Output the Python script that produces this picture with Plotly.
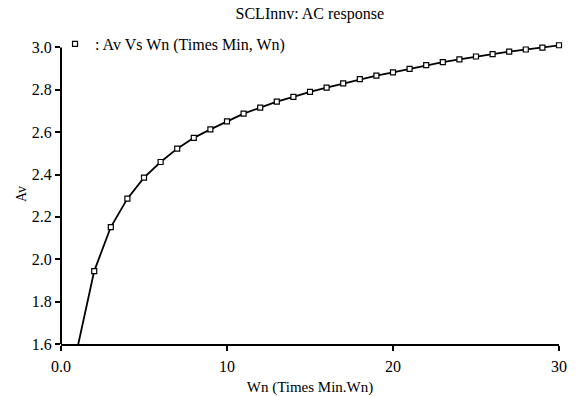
import plotly.graph_objects as go

wn = list(range(1, 31))
av = [1.585, 1.944, 2.152, 2.286, 2.385, 2.459, 2.522, 2.573, 2.613, 2.651,
      2.687, 2.716, 2.744, 2.766, 2.790, 2.810, 2.830, 2.850, 2.867, 2.882,
      2.899, 2.916, 2.930, 2.943, 2.957, 2.968, 2.980, 2.990, 2.999, 3.010]
x_tickvals = [0, 10, 20, 30]
x_ticktext = ["0.0", "10", "20", "30"]
y_tickvals = [1.6, 1.8, 2.0, 2.2, 2.4, 2.6, 2.8, 3.0]
y_ticktext = ["1.6", "1.8", "2.0", "2.2", "2.4", "2.6", "2.8", "3.0"]

FONT = "Liberation Serif"
FS = 16

fig = go.Figure()
fig.add_trace(go.Scatter(
    x=wn, y=av, mode="lines", line=dict(color="black", width=1.8),
    showlegend=False, hoverinfo="skip"))
fig.add_trace(go.Scatter(
    x=wn[1:], y=av[1:], mode="markers", name=": Av Vs Wn (Times Min, Wn)",
    marker=dict(symbol="square", size=5, color="white",
                line=dict(color="black", width=1.2)),
    cliponaxis=False))

# y axis line drawn only up to the top tick (plot area extends a little higher)
fig.add_shape(type="line", xref="paper", yref="y", x0=0, x1=0,
              y0=y_tickvals[0], y1=y_tickvals[-1],
              line=dict(color="black", width=2), layer="above")

fig.update_layout(
    width=579, height=396,
    paper_bgcolor="white", plot_bgcolor="white",
    margin=dict(l=61, r=20, t=44, b=52, autoexpand=False),
    font=dict(family=FONT, size=FS, color="black"),
    title=dict(text="SCLInnv: AC response", x=0.535, xanchor="center",
               y=0.965, yanchor="middle",
               font=dict(family=FONT, size=FS, color="black")),
    legend=dict(x=-0.012, y=1.0, xanchor="left", yanchor="middle",
                bgcolor="rgba(0,0,0,0)",
                font=dict(family=FONT, size=FS, color="black"),
                itemwidth=30, tracegroupgap=0),
    showlegend=True,
)
fig.update_xaxes(
    range=[0, 30], tickvals=x_tickvals, ticktext=x_ticktext,
    showline=True, linecolor="black", linewidth=2,
    ticks="outside", ticklen=5, tickwidth=2, tickcolor="black",
    ticklabelstandoff=2, automargin=False,
    showgrid=False, zeroline=False,
    title=dict(text="Wn (Times Min.Wn)", standoff=7,
               font=dict(family=FONT, size=15, color="black")),
    tickfont=dict(family=FONT, size=FS, color="black"),
)
fig.update_yaxes(
    range=[1.6, 3.016], tickvals=y_tickvals, ticktext=y_ticktext,
    showline=False, automargin=False,
    ticks="outside", ticklen=5, tickwidth=2, tickcolor="black",
    showgrid=False, zeroline=False,
    title=dict(text="Av", standoff=1,
               font=dict(family=FONT, size=14, color="black")),
    tickfont=dict(family=FONT, size=FS, color="black"),
)

fig.write_html("out.html", config={"displayModeBar": False},
               post_script="document.body.style.margin='0';")
